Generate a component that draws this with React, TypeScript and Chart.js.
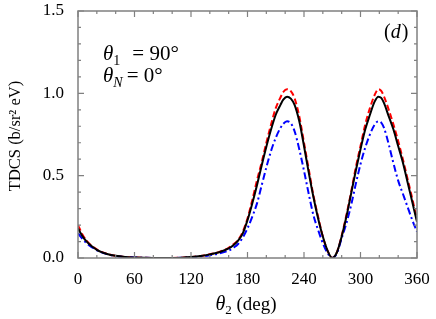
import React, { useEffect, useRef } from "react";
import { Chart, registerables } from "chart.js";

Chart.register(...registerables);

const angles = [
  0, 5, 10, 15, 20, 25, 30,
  40, 50, 60, 70, 80, 90, 100, 110, 120, 130, 140, 150, 160,
  165, 170, 175, 180, 185, 190, 195, 200, 205, 210, 215,
  218, 222, 226,
  230, 235, 240, 245, 250, 255, 260, 265, 270, 275, 280, 285, 290, 295, 300, 305, 310, 315,
  319, 322,
  325, 330, 335, 340, 345, 350, 355, 360,
];

const blackSeries = [
  0.18, 0.13, 0.095, 0.07, 0.05, 0.036, 0.026,
  0.013, 0.006, 0.003, 0.001, 0, 0, 0, 0.002, 0.006, 0.012, 0.022, 0.035, 0.058,
  0.078, 0.105, 0.15, 0.23, 0.33, 0.44, 0.56, 0.675, 0.78, 0.87, 0.93,
  0.962, 0.98, 0.968,
  0.93, 0.83, 0.68, 0.52, 0.37, 0.24, 0.13, 0.045, 0, 0.035, 0.13, 0.25, 0.39, 0.53, 0.66, 0.78, 0.87, 0.95,
  0.98, 0.972,
  0.94, 0.86, 0.78, 0.68, 0.58, 0.46, 0.34, 0.22,
];

const redSeries = [
  0.2, 0.14, 0.1, 0.072, 0.052, 0.037, 0.027,
  0.013, 0.006, 0.003, 0.001, 0, 0, 0, 0.002, 0.006, 0.012, 0.023, 0.037, 0.062,
  0.083, 0.11, 0.16, 0.24, 0.35, 0.47, 0.58, 0.7, 0.81, 0.91, 0.975,
  1.008, 1.025, 1.013,
  0.97, 0.86, 0.7, 0.54, 0.38, 0.25, 0.13, 0.045, 0, 0.036, 0.135, 0.26, 0.4, 0.55, 0.68, 0.81, 0.91, 0.99,
  1.025, 1.015,
  0.98, 0.9, 0.81, 0.71, 0.6, 0.48, 0.36, 0.23,
];

const blueSeries = [
  0.15, 0.115, 0.085, 0.065, 0.047, 0.034, 0.025,
  0.012, 0.006, 0.003, 0.001, 0, 0, 0, 0.001, 0.004, 0.009, 0.017, 0.028, 0.045,
  0.062, 0.085, 0.125, 0.18, 0.25, 0.33, 0.44, 0.55, 0.65, 0.73, 0.79,
  0.815, 0.83, 0.818,
  0.77, 0.66, 0.53, 0.39, 0.26, 0.17, 0.09, 0.03, 0, 0.03, 0.12, 0.21, 0.32, 0.45, 0.57, 0.67, 0.75, 0.81,
  0.83, 0.822,
  0.79, 0.69, 0.575, 0.47, 0.39, 0.31, 0.23, 0.16,
];

const xTickLabels = [0, 60, 120, 180, 240, 300, 360];
const yTickLabels = [0, 0.5, 1.0, 1.5];

const SERIF = "'Liberation Serif', 'DejaVu Serif', serif";

const toPoints = (ys: number[]) => angles.map((a, i) => ({ x: a, y: ys[i] }));

const decorPlugin = {
  id: "decor",
  afterDraw(chart: any) {
    const { ctx, chartArea, scales } = chart;
    const xs = scales.x;
    const ys = scales.y;
    const { left, right, top, bottom } = chartArea;
    ctx.save();
    ctx.strokeStyle = "#808080";
    ctx.lineWidth = 1.2;
    // inward ticks
    for (let v = 0; v <= 360; v += 20) {
      const px = xs.getPixelForValue(v);
      const len = v % 60 === 0 ? 6 : 3;
      ctx.beginPath();
      ctx.moveTo(px, bottom);
      ctx.lineTo(px, bottom - len);
      ctx.moveTo(px, top);
      ctx.lineTo(px, top + len);
      ctx.stroke();
    }
    for (let k = 0; k <= 15; k++) {
      const v = k / 10;
      const py = ys.getPixelForValue(v);
      const len = k % 5 === 0 ? 6 : 3;
      ctx.beginPath();
      ctx.moveTo(left, py);
      ctx.lineTo(left + len, py);
      ctx.moveTo(right, py);
      ctx.lineTo(right - len, py);
      ctx.stroke();
    }
    ctx.lineWidth = 1.5;
    ctx.strokeRect(left, top, right - left, bottom - top);

    // annotations
    ctx.fillStyle = "#000";
    ctx.textBaseline = "alphabetic";
    ctx.textAlign = "left";
    const drawTheta = (x: number, y: number, sub: string, rest: string, gap: number) => {
      ctx.font = `italic 21px ${SERIF}`;
      ctx.fillText("θ", x, y);
      const w = ctx.measureText("θ").width;
      ctx.font = `${sub === "N" ? "italic " : ""}14px ${SERIF}`;
      ctx.fillText(sub, x + w, y + 5);
      const ws = ctx.measureText(sub).width;
      ctx.font = `21px ${SERIF}`;
      ctx.fillText(rest, x + w + ws + gap, y);
    };
    drawTheta(left + 25, top + 49, "1", "= 90°", 12);
    drawTheta(left + 25, top + 71, "N", "= 0°", 4);
    ctx.font = `20px ${SERIF}`;
    const px0 = right - 33;
    ctx.fillText("(", px0, top + 27);
    const w1 = ctx.measureText("(").width;
    ctx.font = `italic 20px ${SERIF}`;
    ctx.fillText("d", px0 + w1, top + 27);
    const w2 = ctx.measureText("d").width;
    ctx.font = `20px ${SERIF}`;
    ctx.fillText(")", px0 + w1 + w2 + 1, top + 27);

    // x axis title
    ctx.textBaseline = "middle";
    const cx = 246;
    ctx.font = `italic 20px ${SERIF}`;
    const tW = ctx.measureText("θ").width;
    ctx.font = `13px ${SERIF}`;
    const sW = ctx.measureText("2").width;
    ctx.font = `19px ${SERIF}`;
    const restW = ctx.measureText(" (deg)").width;
    const total = tW + sW + restW;
    const sx = cx - total / 2;
    ctx.font = `italic 20px ${SERIF}`;
    ctx.fillText("θ", sx, 305);
    ctx.font = `13px ${SERIF}`;
    ctx.fillText("2", sx + tW, 311);
    ctx.font = `19px ${SERIF}`;
    ctx.fillText(" (deg)", sx + tW + sW, 305);

    // y axis title
    ctx.save();
    ctx.translate(16, 136);
    ctx.rotate(-Math.PI / 2);
    ctx.textAlign = "center";
    ctx.font = `16.5px ${SERIF}`;
    ctx.fillText("TDCS (b/sr² eV)", 0, 0);
    ctx.restore();
    ctx.restore();
  },
};

export default function App() {
  const ref = useRef<HTMLCanvasElement | null>(null);
  useEffect(() => {
    if (!ref.current) return;
    const chart = new Chart(ref.current, {
      type: "line",
      data: {
        datasets: [
          {
            label: "black",
            data: toPoints(blackSeries),
            borderColor: "#000000",
            borderWidth: 2,
            pointRadius: 0,
            cubicInterpolationMode: "monotone",
          },
          {
            label: "blue",
            data: toPoints(blueSeries),
            borderColor: "#0000ff",
            borderWidth: 2,
            borderDash: [7, 3, 2, 3],
            pointRadius: 0,
            cubicInterpolationMode: "monotone",
          },
          {
            label: "red",
            data: toPoints(redSeries),
            borderColor: "#ff0000",
            borderWidth: 2,
            borderDash: [6, 3],
            pointRadius: 0,
            cubicInterpolationMode: "monotone",
          },
        ],
      },
      options: {
        animation: false,
        responsive: false,
        maintainAspectRatio: false,
        layout: { padding: { left: 0, right: 19, top: 11, bottom: 0 } },
        plugins: { legend: { display: false }, tooltip: { enabled: false } },
        scales: {
          x: {
            type: "linear",
            min: 0,
            max: 360,
            afterBuildTicks: (s: any) => {
              s.ticks = xTickLabels.map((v) => ({ value: v }));
            },
            afterFit: (s: any) => {
              s.height = 61;
              s.paddingLeft = 0;
              s.paddingRight = 0;
            },
            grid: { display: false, drawTicks: false },
            border: { display: false },
            ticks: {
              color: "#000",
              font: { family: SERIF, size: 17 },
              padding: 11,
              maxRotation: 0,
              autoSkip: false,
            },
          },
          y: {
            type: "linear",
            min: 0,
            max: 1.5,
            afterBuildTicks: (s: any) => {
              s.ticks = yTickLabels.map((v) => ({ value: v }));
            },
            afterFit: (s: any) => {
              s.width = 78;
              s.paddingTop = 0;
              s.paddingBottom = 0;
            },
            grid: { display: false, drawTicks: false },
            border: { display: false },
            ticks: {
              color: "#000",
              font: { family: SERIF, size: 17 },
              padding: 14,
              callback: (v: any) => Number(v).toFixed(1),
            },
          },
        },
      },
      plugins: [decorPlugin],
    });
    return () => chart.destroy();
  }, []);
  return (
    <div style={{ position: "fixed", left: 0, top: 0, width: 436, height: 319, background: "#fff" }}>
      <canvas ref={ref} width={436} height={319} style={{ width: 436, height: 319 }} />
    </div>
  );
}
